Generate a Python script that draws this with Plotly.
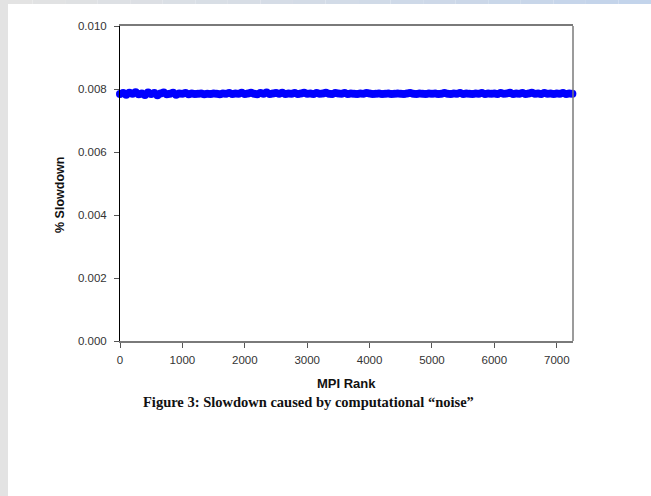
import numpy as np
import plotly.graph_objects as go

# ---- data ----
rank_step = 50
slowdown = [
    0.00784, 0.00787, 0.00782, 0.00788, 0.00785, 0.00790, 0.00783, 0.00786, 0.00781, 0.00789,
    0.00784, 0.00787, 0.00780, 0.00786, 0.00789, 0.00783, 0.00785, 0.00788, 0.00782, 0.00786,
    0.00785, 0.00787, 0.00783, 0.00786, 0.00784, 0.00785, 0.00786, 0.00783, 0.00785, 0.00784,
    0.00786, 0.00785, 0.00783, 0.00786, 0.00785, 0.00787, 0.00784, 0.00786, 0.00785, 0.00788,
    0.00784, 0.00786, 0.00788, 0.00785, 0.00783, 0.00787, 0.00785, 0.00789, 0.00784, 0.00786,
    0.00787, 0.00785, 0.00788, 0.00784, 0.00786, 0.00785, 0.00787, 0.00784, 0.00786, 0.00788,
    0.00785, 0.00786, 0.00784, 0.00787, 0.00785, 0.00786, 0.00788, 0.00785, 0.00784, 0.00787,
    0.00786, 0.00785, 0.00787, 0.00784, 0.00786, 0.00785, 0.00784, 0.00786, 0.00785, 0.00787,
    0.00786, 0.00784, 0.00785, 0.00786, 0.00784, 0.00785, 0.00786, 0.00784, 0.00785, 0.00786,
    0.00785, 0.00784, 0.00786, 0.00787, 0.00785, 0.00784, 0.00786, 0.00785, 0.00784, 0.00786,
    0.00785, 0.00786, 0.00784, 0.00785, 0.00787, 0.00785, 0.00784, 0.00786, 0.00785, 0.00787,
    0.00784, 0.00786, 0.00785, 0.00784, 0.00786, 0.00785, 0.00787, 0.00784, 0.00786, 0.00785,
    0.00786, 0.00784, 0.00787, 0.00785, 0.00786, 0.00788, 0.00784, 0.00786, 0.00785, 0.00787,
    0.00784, 0.00786, 0.00788, 0.00785, 0.00786, 0.00784, 0.00787, 0.00785, 0.00786, 0.00784,
    0.00786, 0.00785, 0.00787, 0.00784, 0.00786, 0.00785,
]
mpi_rank = np.arange(len(slowdown)) * rank_step

x_ticks = [0, 1000, 2000, 3000, 4000, 5000, 6000, 7000]
y_ticks = [0.000, 0.002, 0.004, 0.006, 0.008, 0.010]
y_tick_labels = ["0.000", "0.002", "0.004", "0.006", "0.008", "0.010"]

x_title = "MPI Rank"
y_title = "% Slowdown"
caption = "Figure 3: Slowdown caused by computational \u201cnoise\u201d"

SANS = "Liberation Sans, Arial, sans-serif"
SERIF = "Liberation Serif, Times New Roman, serif"

fig = go.Figure()
fig.add_trace(go.Scatter(
    x=mpi_rank, y=slowdown, mode="markers",
    marker=dict(color="#0000ff", size=8, line=dict(width=0)),
    cliponaxis=False, showlegend=False, hoverinfo="x+y",
))

shapes = []
# page decoration: left gray strip and top gradient strip
shapes.append(dict(type="rect", xref="paper", yref="paper", x0=-120/453, x1=-112/453,
                   y0=-155/315, y1=1 + 26/315, fillcolor="#e3e3e3", line=dict(width=0), layer="below"))
n_seg = 20
c0 = np.array([0xe3, 0xe3, 0xe3])
c1 = np.array([0xc3, 0xd4, 0xeb])
for i in range(n_seg):
    t = i / (n_seg - 1)
    c = (c0 * (1 - t) + c1 * t).astype(int)
    xa = -120 + 651 * i / n_seg
    xb = -120 + 651 * (i + 1) / n_seg
    shapes.append(dict(type="rect", xref="paper", yref="paper", x0=xa/453, x1=xb/453,
                       y0=1 + 22/315, y1=1 + 26.5/315,
                       fillcolor="rgb(%d,%d,%d)" % tuple(c), line=dict(width=0), layer="below"))
# right frame edge
shapes.append(dict(type="line", xref="x domain", yref="y domain", x0=1, x1=1, y0=0, y1=1,
                   line=dict(color="#7a7a7a", width=1.5)))

fig.update_layout(
    width=651, height=496,
    margin=dict(l=120, r=78, t=26, b=155),
    paper_bgcolor="white", plot_bgcolor="white",
    shapes=shapes,
    xaxis=dict(
        range=[0, 7260], tickvals=x_ticks, ticks="outside", ticklen=5, tickcolor="#555",
        showline=True, linecolor="#7a7a7a", linewidth=1.5, mirror=True,
        showgrid=False, zeroline=False, ticklabelstandoff=2,
        tickfont=dict(family=SANS, size=11.5, color="#333"),
    ),
    yaxis=dict(
        range=[0, 0.010], tickvals=y_ticks, ticktext=y_tick_labels, ticks="outside",
        ticklen=5, tickcolor="#555", ticklabelstandoff=5,
        showline=True, linecolor="#000", linewidth=1, mirror=False,
        showgrid=False, zeroline=False,
        tickfont=dict(family=SANS, size=11.5, color="#333"),
    ),
    annotations=[
        dict(text="<b>%s</b>" % x_title, xref="paper", yref="paper", x=0.5, y=-42/315,
             xanchor="center", yanchor="middle", showarrow=False,
             font=dict(family=SANS, size=13, color="#111")),
        dict(text="<b>%s</b>" % y_title, xref="paper", yref="paper", x=-60/453, y=(341-195)/315,
             xanchor="center", yanchor="middle", showarrow=False, textangle=-90,
             font=dict(family=SANS, size=12.5, color="#111")),
        dict(text="<b>%s</b>" % caption, xref="paper", yref="paper", x=(308-120)/453, y=-61/315,
             xanchor="center", yanchor="middle", showarrow=False,
             font=dict(family=SERIF, size=14.5, color="#111")),
    ],
)

fig.write_html("out.html")
